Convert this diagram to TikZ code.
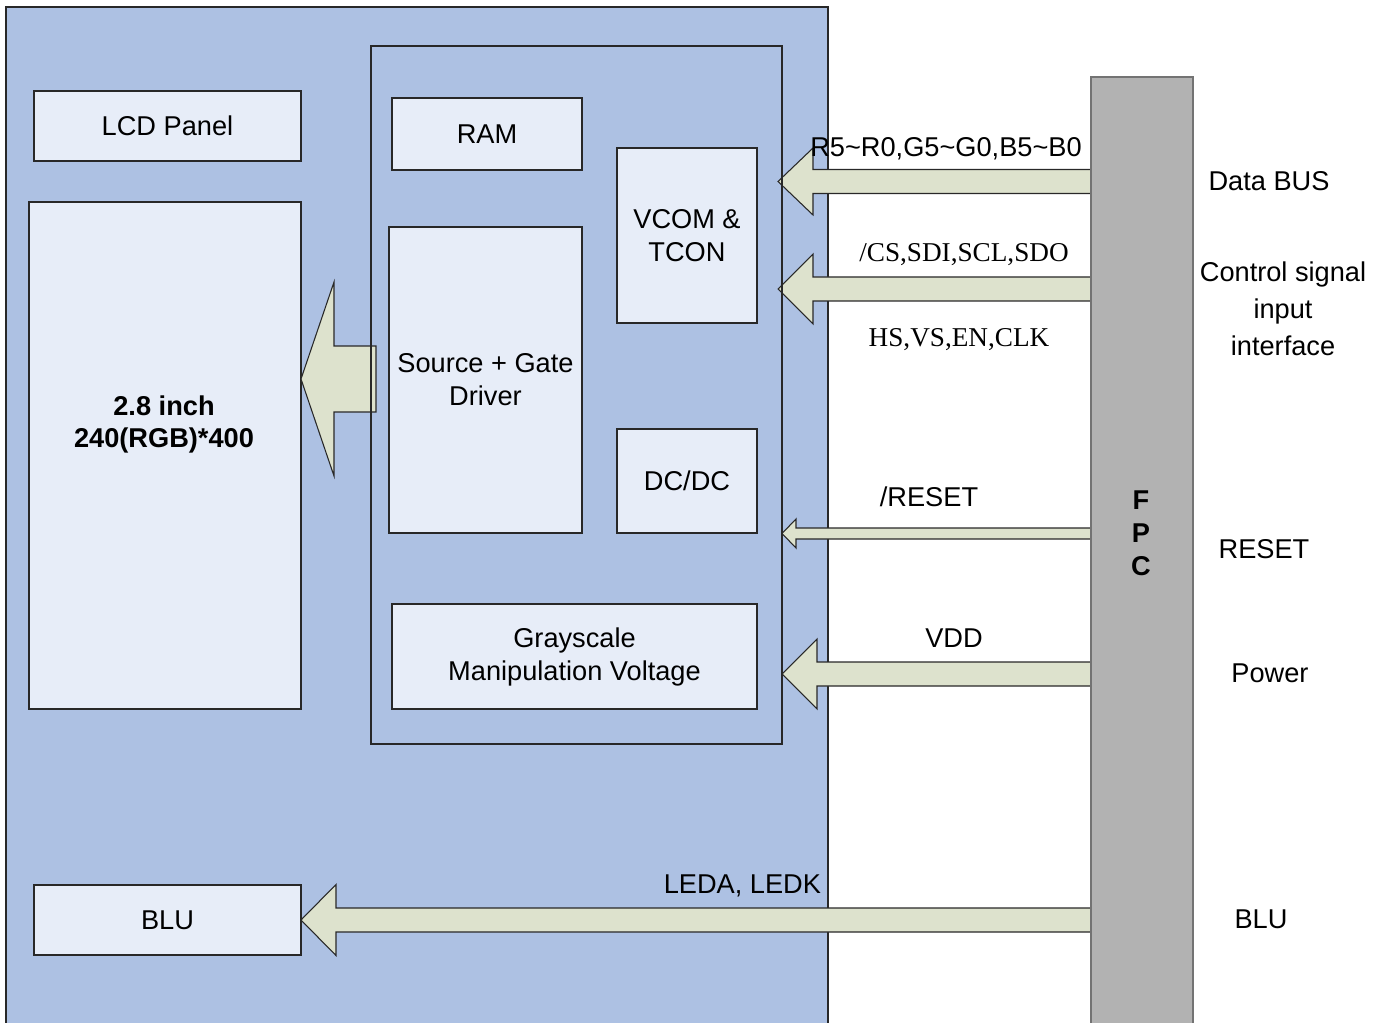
\documentclass[tikz,border=0pt]{standalone}
\usepackage{fontspec}
\setmainfont{Liberation Sans}
\newfontfamily\timesf{Liberation Serif}
\definecolor{panelblue}{RGB}{173,193,227}
\definecolor{boxfill}{RGB}{231,237,248}
\definecolor{arrowfill}{RGB}{221,226,205}
\definecolor{fpcgray}{RGB}{178,178,178}
\definecolor{edge}{RGB}{40,40,40}
\newcommand\blockarrow[6]{% tail x, tip x, center y, half body, half head, head length
  \draw[arrowshape] (#1,#3-#4) -- (#2+#6,#3-#4) -- (#2+#6,#3-#5) -- (#2,#3)
    -- (#2+#6,#3+#5) -- (#2+#6,#3+#4) -- (#1,#3+#4) -- cycle;}
\newcommand\blk[6]{\node[box,minimum width={(#4-#2)*0.75pt},minimum height={(#5-#3)*0.75pt}]
  (#1) at ({(#2+#4)/2},{(#3+#5)/2}) {#6};}
\begin{document}
\begin{tikzpicture}[x=0.75pt,y=-0.75pt,
  every node/.style={font=\fontsize{20.4}{24.75}\selectfont, inner sep=0pt, outer sep=0pt, align=center},
  box/.style={draw=edge, line width=0.8pt, fill=boxfill, rectangle},
  arrowshape/.style={draw=edge, line width=0.8pt, fill=arrowfill, line join=miter}]
\useasboundingbox (0,0) rectangle (1387,1023);
\fill[white] (0,0) rectangle (1387,1023);
% main module
\draw[draw=edge, line width=0.8pt, fill=panelblue] (6,7) rectangle (828,1040);
% boxes
\blk{lcd}{34}{91}{301}{161}{LCD Panel}
\blk{panel}{29}{202}{301}{709}{}
\node[font=\fontsize{20.4}{24}\selectfont\bfseries] (paneltxt) at (164,424) {2.8 inch\\240(RGB)*400};
\blk{ram}{392}{98}{582}{170}{RAM}
\blk{vcom}{617}{148}{757}{323}{VCOM \&\\TCON}
\blk{src}{389}{227}{582}{533}{Source + Gate\\Driver}
\blk{dcdc}{617}{429}{757}{533}{DC/DC}
\blk{gray}{392}{604}{757}{709}{Grayscale\\Manipulation Voltage}
\blk{blu}{34}{885}{301}{955}{BLU}
% block arrows
\blockarrow{376}{301}{379}{33}{97}{33}
\blockarrow{1091}{778}{181.5}{12}{33.5}{35}
\blockarrow{1091}{778}{289}{12}{35}{35}
\blockarrow{1091}{782}{533.5}{5.5}{14.5}{14}
\blockarrow{1091}{782}{674}{12}{35}{35}
\blockarrow{1091}{301}{920}{12}{35.5}{35}
% driver IC outline
\draw[draw=edge, line width=0.8pt] (371,46) rectangle (782,744);
% FPC
\draw[draw=black!55, line width=0.8pt, fill=fpcgray] (1091,77) rectangle (1193,1040);
\node[font=\fontsize{20.4}{24.75}\selectfont\bfseries] (fpc) at (1141,533) {F\\P\\C};
% signal labels
\node (l1) at (946,149) {R5\textasciitilde R0,G5\textasciitilde G0,B5\textasciitilde B0};
\node[font=\fontsize{20.4}{24.75}\selectfont\timesf] (l2) at (964,255) {/CS,SDI,SCL,SDO};
\node[font=\fontsize{20.4}{24.75}\selectfont\timesf] (l3) at (959,340) {HS,VS,EN,CLK};
\node (l4) at (929,497) {/RESET};
\node (l5) at (954,638) {VDD};
\node[anchor=east] (l6) at (821,886) {LEDA, LEDK};
% right side labels
\node (r1) at (1269,181) {Data BUS};
\node[font=\fontsize{20.4}{27.75}\selectfont] (r2) at (1283,309) {Control signal\\input\\interface};
\node (r3) at (1264,549) {RESET};
\node (r4) at (1270,673) {Power};
\node (r5) at (1261,919) {BLU};
\end{tikzpicture}
\end{document}
